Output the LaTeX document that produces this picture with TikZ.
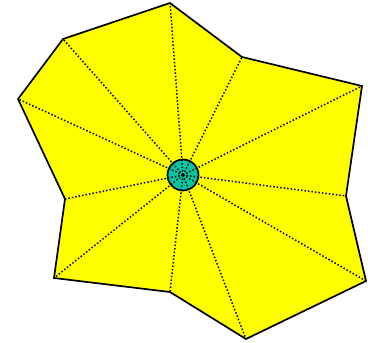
\documentclass[tikz,border=0pt]{standalone}
\usetikzlibrary{positioning}
\definecolor{hubteal}{RGB}{0,200,160}
\definecolor{fanyellow}{RGB}{255,255,0}

\begin{document}
\begin{tikzpicture}[x=1pt, y=-1pt, line width=1.7pt]
    \useasboundingbox (0,0) rectangle (368,343);
    % outer polygon corners
    \coordinate (p1) at (63,39);
    \coordinate (p2) at (170,3);
    \coordinate (p3) at (242,57);
    \coordinate (p4) at (362,86);
    \coordinate (p5) at (346,196);
    \coordinate (p6) at (366,281);
    \coordinate (p7) at (246,339);
    \coordinate (p8) at (170,292);
    \coordinate (p9) at (54,278);
    \coordinate (p10) at (65,199);
    \coordinate (p11) at (18,99);
    \filldraw[draw=black, fill=fanyellow, line join=miter]
      (p1)--(p2)--(p3)--(p4)--(p5)--(p6)--(p7)--(p8)--(p9)--(p10)--(p11)--cycle;
    \node[circle, draw=black, fill=hubteal, line width=1.7pt, minimum size=31pt, inner sep=0pt] (hub) at (183,175){};
    \foreach \i in {1,...,11}{\draw[line width=1.5pt, dash pattern=on 1.5pt off 2pt] (hub.center)--(p\i);}
  \end{tikzpicture}
\end{document}
